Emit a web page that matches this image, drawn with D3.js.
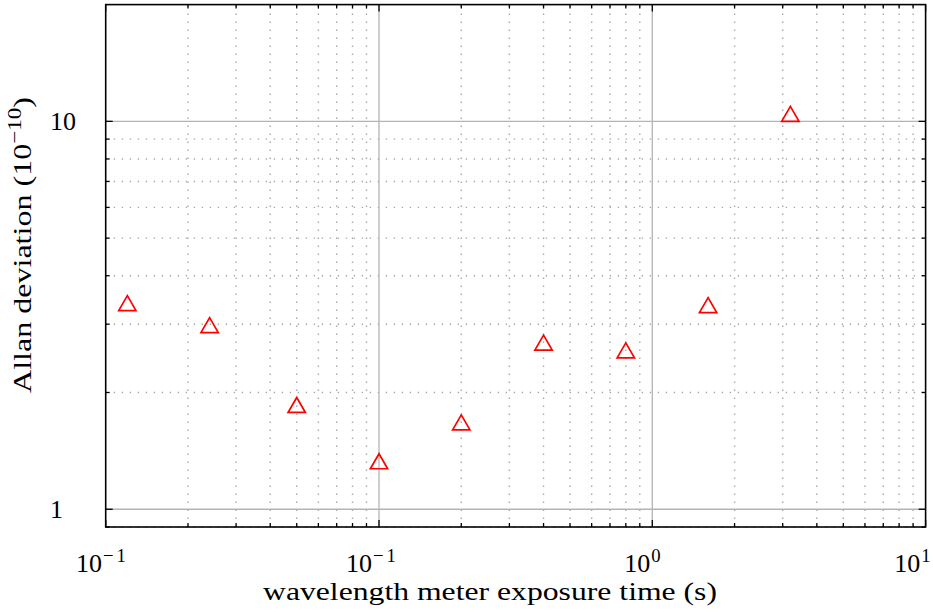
<!DOCTYPE html>
<html>
<head>
<meta charset="utf-8">
<script src="https://cdn.jsdelivr.net/npm/d3@7"></script>
<style>
  html, body { margin: 0; padding: 0; background: #fff; }
  svg { display: block; }
  text { font-family: "Liberation Serif", "DejaVu Serif", serif; fill: #000; }
</style>
</head>
<body>
<svg id="chart" width="933" height="612"></svg>
<script>
// Exposure times (s) and measured Allan deviation (units of 1e-10)
const exposureTimes = [0.012, 0.024, 0.05, 0.1, 0.2, 0.4, 0.8, 1.6, 3.2];
const allanDeviation = [3.35, 2.94, 1.83, 1.31, 1.65, 2.65, 2.53, 3.31, 10.3];

// Axis ticks and their labels (base 10 with exponent)
const xTickValues = [0.01, 0.1, 1, 10];
const xTickExponents = ["\u22121", "\u22121", "0", "1"];
const yTickValues = [1, 10];
const yTickLabels = ["1", "10"];

const xLabel = "wavelength meter exposure time (s)";
const yLabelMain = "Allan deviation (10";
const yLabelExp = "\u221210";
const yLabelTail = ")";

const W = 933, H = 612;
const plot = { left: 105.7, right: 925.6, top: 4.6, bottom: 527 };

const x = d3.scaleLog().domain([0.01, 10]).range([plot.left, plot.right]);
const y = d3.scaleLog().domain([0.9, 20]).range([plot.bottom, plot.top]);
// tick labels sit on a slightly compressed log scale
const xLab = d3.scaleLog().domain([0.01, 10]).range([102.5, 912.5]);

const svg = d3.select("#chart");

// minor/major tick values inside the domains
function logTicks(lo, hi) {
  const minor = [], major = [];
  for (let e = -3; e <= 2; e++) {
    for (let m = 1; m <= 9; m++) {
      const v = m * Math.pow(10, e);
      if (v < lo * 0.9999 || v > hi * 1.0001) continue;
      (m === 1 ? major : minor).push(v);
    }
  }
  return { minor, major };
}
const xt = logTicks(0.01, 10);
const yt = logTicks(0.9, 20);

const grid = svg.append("g");
// minor grid (dotted)
grid.selectAll("line.xminor").data(xt.minor).join("line")
  .attr("x1", d => x(d)).attr("x2", d => x(d))
  .attr("y1", plot.bottom).attr("y2", plot.top)
  .attr("stroke", "#a9a9a9").attr("stroke-width", 1.4)
  .attr("stroke-dasharray", "1.4 6.6");
grid.selectAll("line.yminor").data(yt.minor.filter(v => v < 19.9)).join("line")
  .attr("y1", d => y(d)).attr("y2", d => y(d))
  .attr("x1", plot.left).attr("x2", plot.right)
  .attr("stroke", "#a9a9a9").attr("stroke-width", 1.4)
  .attr("stroke-dasharray", "1.4 6.6");
// major grid (solid)
grid.selectAll("line.xmajor").data(xt.major.filter(v => v > 0.011 && v < 9.9)).join("line")
  .attr("x1", d => x(d)).attr("x2", d => x(d))
  .attr("y1", plot.bottom).attr("y2", plot.top)
  .attr("stroke", "#b4b4b4").attr("stroke-width", 1.3);
grid.selectAll("line.ymajor").data(yt.major).join("line")
  .attr("y1", d => y(d)).attr("y2", d => y(d))
  .attr("x1", plot.left).attr("x2", plot.right)
  .attr("stroke", "#b4b4b4").attr("stroke-width", 1.3);

// ticks on all four sides, pointing inward
const ticks = svg.append("g").attr("stroke", "#000").attr("stroke-width", 1.3);
function addXTicks(vals, len) {
  vals.forEach(v => {
    ticks.append("line").attr("x1", x(v)).attr("x2", x(v)).attr("y1", plot.bottom).attr("y2", plot.bottom - len);
    ticks.append("line").attr("x1", x(v)).attr("x2", x(v)).attr("y1", plot.top).attr("y2", plot.top + len);
  });
}
function addYTicks(vals, len) {
  vals.forEach(v => {
    ticks.append("line").attr("y1", y(v)).attr("y2", y(v)).attr("x1", plot.left).attr("x2", plot.left + len);
    ticks.append("line").attr("y1", y(v)).attr("y2", y(v)).attr("x1", plot.right).attr("x2", plot.right - len);
  });
}
addXTicks(xt.minor, 4); addXTicks(xt.major, 7);
addYTicks(yt.minor.filter(v => v < 19.9), 4); addYTicks(yt.major, 7);

// frame
svg.append("rect")
  .attr("x", plot.left).attr("y", plot.top)
  .attr("width", plot.right - plot.left).attr("height", plot.bottom - plot.top)
  .attr("fill", "none").attr("stroke", "#000").attr("stroke-width", 1.6);

// data markers: open triangles
const r = 10;
const tri = `M0,${-r} L${r * Math.sqrt(3) / 2},${r / 2} L${-r * Math.sqrt(3) / 2},${r / 2} Z`;
svg.append("g").selectAll("path").data(exposureTimes).join("path")
  .attr("d", tri)
  .attr("transform", (d, i) => `translate(${x(d)},${y(allanDeviation[i])})`)
  .attr("fill", "none").attr("stroke", "#ff0000").attr("stroke-width", 1.7)
  .attr("stroke-linejoin", "miter");

// x tick labels
const fs = 26;
const xl = svg.append("g");
xTickValues.forEach((v, i) => {
  const t = xl.append("text").attr("x", xLab(v)).attr("y", 571.5)
    .attr("text-anchor", "middle").attr("font-size", fs);
  t.append("tspan").text("10");
  t.append("tspan").attr("font-size", fs * 0.72).attr("dx", 1).attr("dy", -10)
    .attr("letter-spacing", xTickExponents[i].length > 1 ? 3 : 0)
    .text(xTickExponents[i]);
});

// y tick labels
yTickValues.forEach((v, i) => {
  svg.append("text").attr("x", 50).attr("y", y(v)).attr("dy", "0.34em")
    .attr("font-size", fs).text(yTickLabels[i]);
});

// axis titles (widened to the serif metrics of the layout)
svg.append("text").attr("x", 490).attr("y", 600).attr("text-anchor", "middle")
  .attr("font-size", fs).attr("textLength", 454).attr("lengthAdjust", "spacingAndGlyphs")
  .text(xLabel);

const yl = svg.append("text")
  .attr("transform", "translate(31,245) rotate(-90)")
  .attr("text-anchor", "middle").attr("font-size", fs)
  .attr("textLength", 296).attr("lengthAdjust", "spacingAndGlyphs");
yl.append("tspan").text(yLabelMain);
yl.append("tspan").attr("font-size", fs * 0.72).attr("dy", -10).text(yLabelExp);
yl.append("tspan").attr("dy", 10).text(yLabelTail);
</script>
</body>
</html>
